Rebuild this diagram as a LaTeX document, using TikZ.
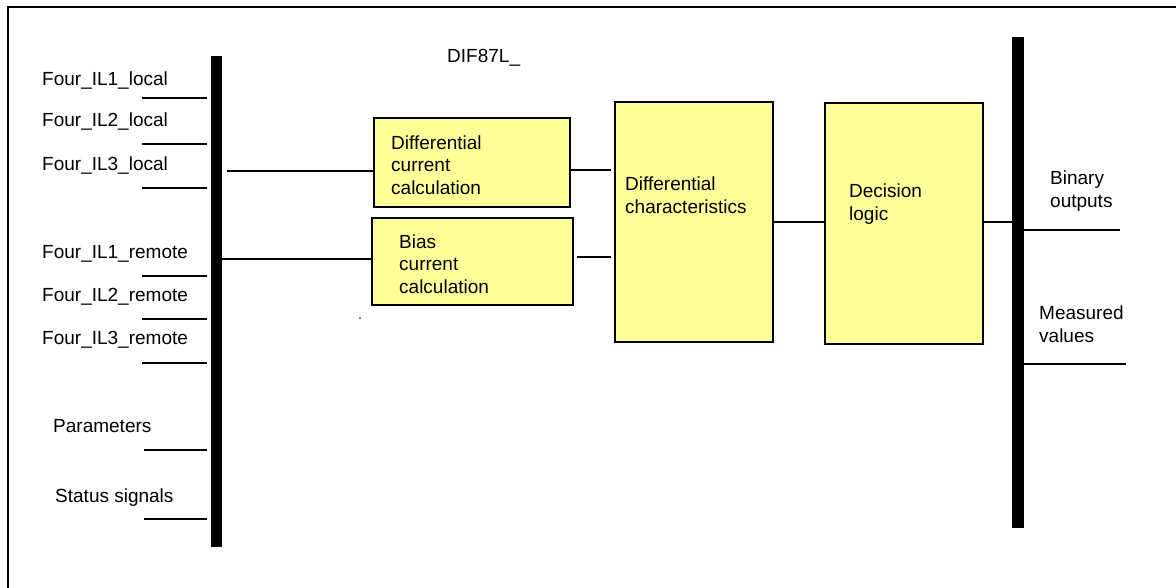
\documentclass[tikz,border=0pt]{standalone}
\usepackage{fontspec}
\setmainfont{Liberation Sans}
\begin{document}
\begin{tikzpicture}[x=1pt,y=-1pt,
  txt/.style={font=\fontsize{19}{22.5}\selectfont, inner sep=0pt, anchor=base west, align=left},
  blk/.style={draw=black, line width=2pt, fill=yellowbox, inner sep=0pt},
  bus/.style={fill=black, draw=none, inner sep=0pt, minimum width=11.5pt, minimum height=491pt},
  wire/.style={line width=1.5pt}]
\definecolor{yellowbox}{HTML}{FFFF99}
\useasboundingbox (0,0) rectangle (1176,587);
% frame
\draw[line width=1.5pt] (8,600) -- (8,7) -- (1180,7);
% buses
\node[bus] (lbus) at (216.5,301.5) {};
\node[bus] (rbus) at (1018,282.5) {};
% boxes
\node[blk, minimum width=196pt, minimum height=89pt] (b1) at (472,162.5) {};
\node[blk, minimum width=201pt, minimum height=87pt] (b2) at (472.5,261.5) {};
\node[blk, minimum width=158pt, minimum height=240pt] (b3) at (694,222) {};
\node[blk, minimum width=158pt, minimum height=241pt] (b4) at (904,223.5) {};
% box texts (anchor = baseline of last line)
\node[txt] (t1) at (391,194) {Differential\\current\\calculation};
\node[txt] (t2) at (399,293) {Bias\\current\\calculation};
\node[txt] (t3) at (625,213) {Differential\\characteristics};
\node[txt] (t4) at (849,220) {Decision\\logic};
\node[txt] (title) at (447,62) {DIF87L\_};
% left labels
\node[txt] (l1) at (42,85) {Four\_IL1\_local};
\node[txt] (l2) at (42,126) {Four\_IL2\_local};
\node[txt] (l3) at (42,170) {Four\_IL3\_local};
\node[txt] (l4) at (42,258) {Four\_IL1\_remote};
\node[txt] (l5) at (42,301) {Four\_IL2\_remote};
\node[txt] (l6) at (42,344) {Four\_IL3\_remote};
\node[txt] (l7) at (53,432) {Parameters};
\node[txt] (l8) at (55,502) {Status signals};
% right labels
\node[txt] (r1) at (1050,207) {Binary\\outputs};
\node[txt] (r2) at (1039,342) {Measured\\values};
% stub coordinates
\coordinate (s1) at (142,98);
\coordinate (s2) at (142,144);
\coordinate (s3) at (142,188);
\coordinate (s4) at (142,276);
\coordinate (s5) at (142,319);
\coordinate (s6) at (142,363);
\coordinate (s7) at (144,450);
\coordinate (s8) at (144,519);
\foreach \s in {s1,s2,s3,s4,s5,s6,s7,s8}
  \draw[wire] (\s) -- ([xshift=-3.5pt]lbus.west |- \s);
% connectors
\coordinate (c1) at (0,171);
\coordinate (c2) at (0,259);
\coordinate (c3) at (0,170);
\coordinate (c4) at (0,257);
\coordinate (c5) at (0,222);
\draw[wire] ([xshift=5pt]lbus.east |- c1) -- (b1.west |- c1);
\draw[wire] (lbus.east |- c2) -- (b2.west |- c2);
\draw[wire] (b1.east |- c3) -- ([xshift=-3pt]b3.west |- c3);
\draw[wire] ([xshift=3pt]b2.east |- c4) -- ([xshift=-3pt]b3.west |- c4);
\draw[wire] (b3.east |- c5) -- (b4.west |- c5);
\draw[wire] (b4.east |- c5) -- (rbus.west |- c5);
\coordinate (o1) at (1120,230);
\coordinate (o2) at (1126,364);
\draw[wire] (rbus.east |- o1) -- (o1);
\draw[wire] (rbus.east |- o2) -- (o2);
% stray dot
\fill (360,318) circle (0.8pt);
\end{tikzpicture}
\end{document}
